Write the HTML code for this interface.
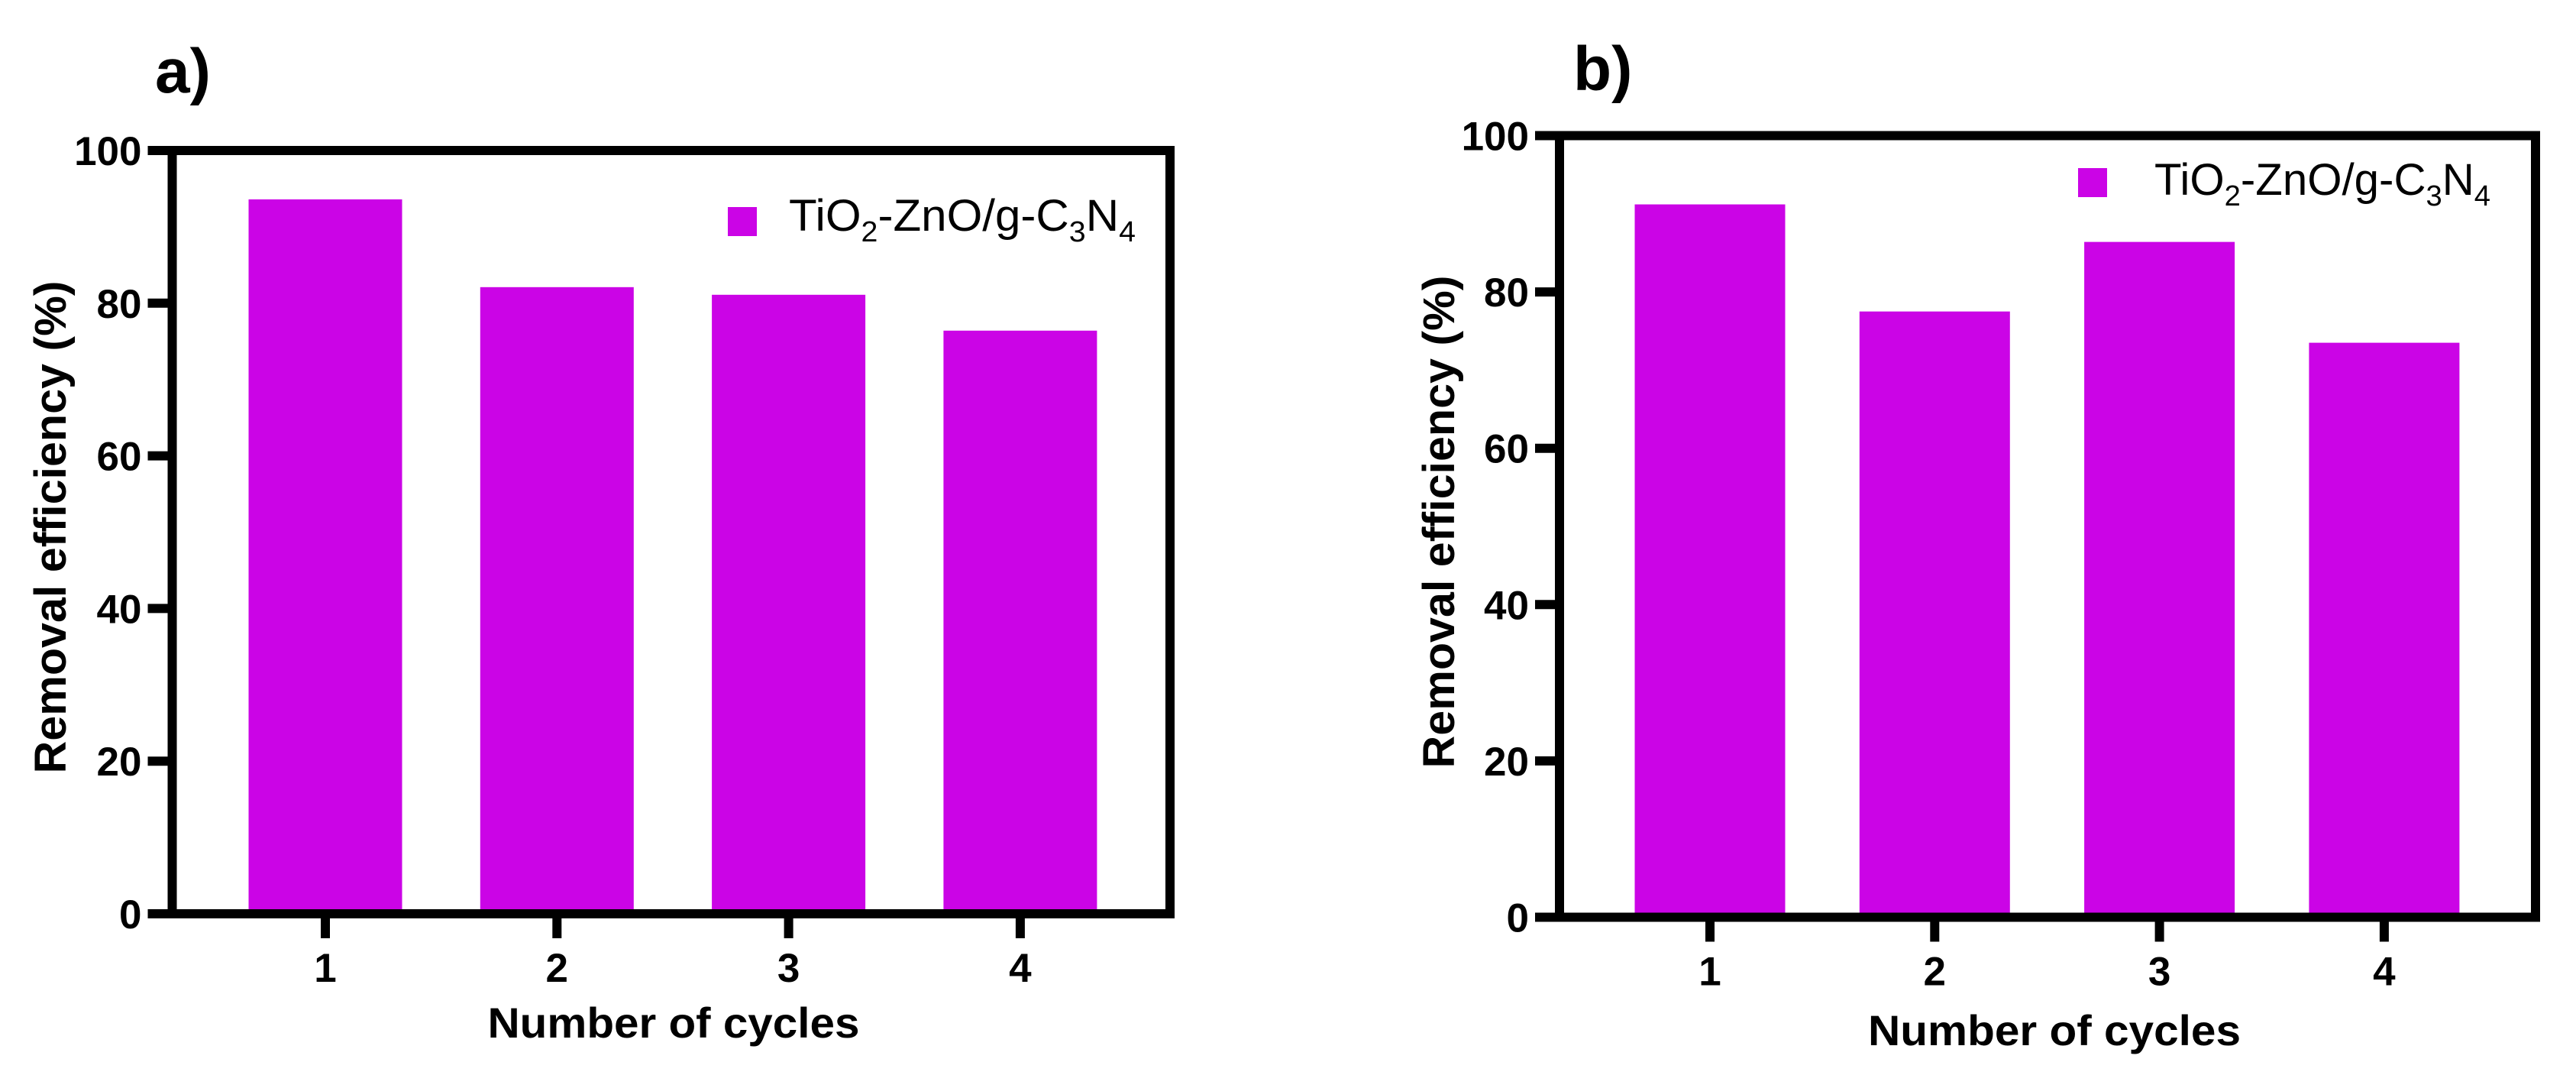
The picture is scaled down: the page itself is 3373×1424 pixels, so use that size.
<!DOCTYPE html>
<html><head><meta charset="utf-8"><style>
html,body{margin:0;padding:0;background:#fff;}
svg{display:block;}
text{font-family:"Liberation Sans",Arial,sans-serif;}
</style></head>
<body>
<svg id="fig" width="3373" height="1424" viewBox="0 0 3373 1424" xmlns="http://www.w3.org/2000/svg"></svg>
<script>
const categories = ["1","2","3","4"];
const valuesA = [93.6, 82.1, 81.1, 76.4];
const valuesB = [91.2, 77.5, 86.4, 73.5];
const yTicks = [0,20,40,60,80,100];
const seriesName = "TiO2-ZnO/g-C3N4";

const NS="http://www.w3.org/2000/svg";
const svg=document.getElementById('fig');
function mk(tag,attrs,parent){const e=document.createElementNS(NS,tag);for(const k in attrs)e.setAttribute(k,attrs[k]);(parent||svg).appendChild(e);return e;}

function panel(cfg, values){
  const g=mk('g',{});
  
  
  const yS=v=>cfg.y0+(cfg.y100-cfg.y0)*v/100;
  const xS=i=>cfg.x1+i*cfg.step;
  // bars
  values.forEach((v,i)=>{
    const b=mk('rect',{x:xS(i)-cfg.bw/2,y:yS(v),width:cfg.bw,height:yS(0)-yS(v),fill:'#cb04e6'},g);
    
    
  });
  // frame
  const f=mk('rect',{x:cfg.left,y:yS(100),width:cfg.right-cfg.left,height:yS(0)-yS(100),fill:'none',stroke:'#000','stroke-width':12},g);
  
  
  // y ticks
  yTicks.forEach(t=>{
    const l=mk('line',{x1:cfg.left-32,x2:cfg.left,y1:yS(t),y2:yS(t),stroke:'#000','stroke-width':12},g);
    
    
    const tx=mk('text',{x:cfg.left-40,y:yS(t)+19,'text-anchor':'end','font-size':53,'font-weight':'bold',fill:'#000'},g);
    tx.textContent=t;
    
    
  });
  // x ticks
  categories.forEach((c,i)=>{
    const l=mk('line',{x1:xS(i),x2:xS(i),y1:yS(0),y2:yS(0)+32,stroke:'#000','stroke-width':12},g);
    
    
    const tx=mk('text',{x:xS(i),y:yS(0)+89,'text-anchor':'middle','font-size':53,'font-weight':'bold',fill:'#000'},g);
    tx.textContent=c;
    
    
  });
  // titles
  const xt=mk('text',{x:cfg.xtX,y:cfg.xtY,'text-anchor':'middle','font-size':56,'font-weight':'bold',fill:'#000',textLength:cfg.xtLen,lengthAdjust:'spacingAndGlyphs'},g);
  xt.textContent='Number of cycles';
  
  
  const yt=mk('text',{x:0,y:0,'text-anchor':'middle','font-size':58,'font-weight':'bold',fill:'#000',textLength:645,lengthAdjust:'spacingAndGlyphs',transform:`translate(${cfg.ytX},${cfg.ytY}) rotate(-90)`},g);
  yt.textContent='Removal efficiency (%)';
  
  
  // panel label
  const pl=mk('text',{x:cfg.plX,y:cfg.plY,'font-size':82,'font-weight':'bold',fill:'#000'},g);
  pl.textContent=cfg.label;
  
  
  // legend
  const sw=mk('rect',{x:cfg.lgX,y:cfg.lgY,width:38,height:38,fill:'#cb04e6'},g);
  
  
  const lt=mk('text',{x:cfg.ltX,y:cfg.ltY,'font-size':58,fill:'#000',textLength:cfg.ltLen,lengthAdjust:'spacingAndGlyphs'},g);
  
  
  lt.innerHTML='TiO<tspan font-size="38" dy="14">2</tspan><tspan dy="-14">-ZnO/g-C</tspan><tspan font-size="38" dy="14">3</tspan><tspan dy="-14">N</tspan><tspan font-size="38" dy="14">4</tspan>';
}

panel({id:'panel-a',label:'a)',left:225.5,right:1532,y0:1196,y100:197,x1:426,step:303.3,bw:201,
  xtX:882,xtY:1358,xtLen:487,ytX:86,ytY:690,plX:203,plY:121,lgX:953,lgY:271,ltX:1033,ltY:302,ltLen:454}, valuesA);
panel({id:'panel-b',label:'b)',left:2042,right:3320,y0:1200.5,y100:177.5,x1:2239,step:294.3,bw:197,
  xtX:2690,xtY:1368,xtLen:488,ytX:1904,ytY:683,plX:2060,plY:118,lgX:2721,lgY:220,ltX:2821,ltY:255,ltLen:440}, valuesB);
</script>
</body></html>
